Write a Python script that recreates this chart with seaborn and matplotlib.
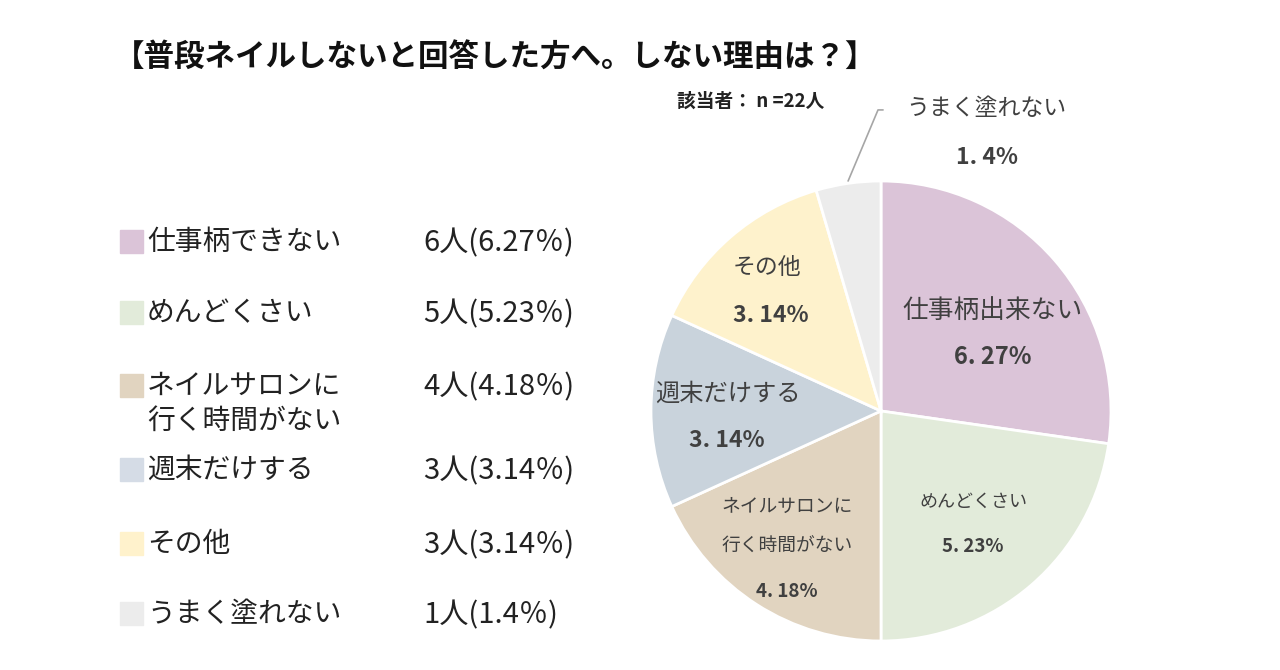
import matplotlib.pyplot as plt
import seaborn as sns

sns.set_theme(style="white")
plt.rcParams["font.family"] = ["Noto Sans CJK JP", "DejaVu Sans"]

# Data
legend_labels = ["仕事柄できない", "めんどくさい", "ネイルサロンに\n行く時間がない",
                 "週末だけする", "その他", "うまく塗れない"]
pie_labels = ["仕事柄出来ない", "めんどくさい", "ネイルサロンに\n行く時間がない",
              "週末だけする", "その他", "うまく塗れない"]
counts = [6, 5, 4, 3, 3, 1]
pct_text = ["6.27", "5.23", "4.18", "3.14", "3.14", "1.4"]
colors = ["#dbc4d8", "#e2ebda", "#e1d4c0", "#c9d3dc", "#fef2cc", "#ececec"]
legend_colors = ["#dbc4d8", "#e2ebda", "#e1d4c0", "#d5dce6", "#fff2cc", "#ececec"]

fig = plt.figure(figsize=(12.8, 6.7), dpi=100)
W, H = 1280, 670

# Title and sample size
fig.text(114 / W, 1 - 58 / H, "【普段ネイルしないと回答した方へ。しない理由は？】",
         fontsize=22, fontweight="bold", color="#111111", va="center", ha="left")
fig.text(677 / W, 1 - 101 / H, "該当者： n =22人", fontsize=13.5, fontweight="bold",
         color="#222222", va="center", ha="left")

# Left legend
row_y = [241, 312, 385, 469, 543, 613]
for lab, c, n, p, y in zip(legend_labels, legend_colors, counts, pct_text, row_y):
    fig.patches.append(plt.Rectangle((120 / W, 1 - (y + 12) / H), 23 / W, 23 / H,
                                     transform=fig.transFigure, color=c))
    fig.text(147 / W, 1 - (y - 14) / H, lab, fontsize=20, color="#222222",
             va="top", ha="left", linespacing=1.2)
    fig.text(423 / W, 1 - (y + 2) / H, f"{n}人({p}％)", fontsize=21, color="#222222",
             va="center", ha="left")

# Pie
cx, cy, r = 881, 411, 230
ax = fig.add_axes([(cx - r) / W, (H - cy - r) / H, 2 * r / W, 2 * r / H])
ax.pie(counts, colors=colors, startangle=90, counterclock=False, radius=1,
       wedgeprops=dict(edgecolor="white", linewidth=2))
ax.set_xlim(-1, 1)
ax.set_ylim(-1, 1)
ax.set_aspect("auto")
ax.axis("off")

# Slice labels (name position, percent position, font sizes)
name_pos = [(0.487, 0.435), (0.40, -0.396), (-0.409, -0.50), (-0.665, 0.074),
            (-0.496, 0.622), (0.457, 1.317)]
pct_pos = [(0.487, 0.235), (0.40, -0.587), (-0.409, -0.783), (-0.67, -0.13),
           (-0.478, 0.417), (0.46, 1.104)]
name_fs = [18.5, 13, 13.5, 17.5, 16.5, 16.5]
pct_fs = [17, 13.5, 13.5, 16.5, 16.5, 16.5]
for lab, p, npos, ppos, nf, pf in zip(pie_labels, pct_text, name_pos, pct_pos, name_fs, pct_fs):
    ax.text(*npos, lab, fontsize=nf, color="#404040", ha="center", va="center",
            linespacing=2.2, clip_on=False)
    a, b = p.split(".")
    ax.text(*ppos, f"{a}. {b}%", fontsize=pf, fontweight="bold", color="#404040",
            ha="center", va="center", clip_on=False)

# Leader line for the small slice
ax.plot([-0.143, -0.013, 0.009], [1.0, 1.309, 1.309], color="#a6a6a6",
        linewidth=1.2, clip_on=False)

plt.savefig("out.png", dpi=100, facecolor="white")
